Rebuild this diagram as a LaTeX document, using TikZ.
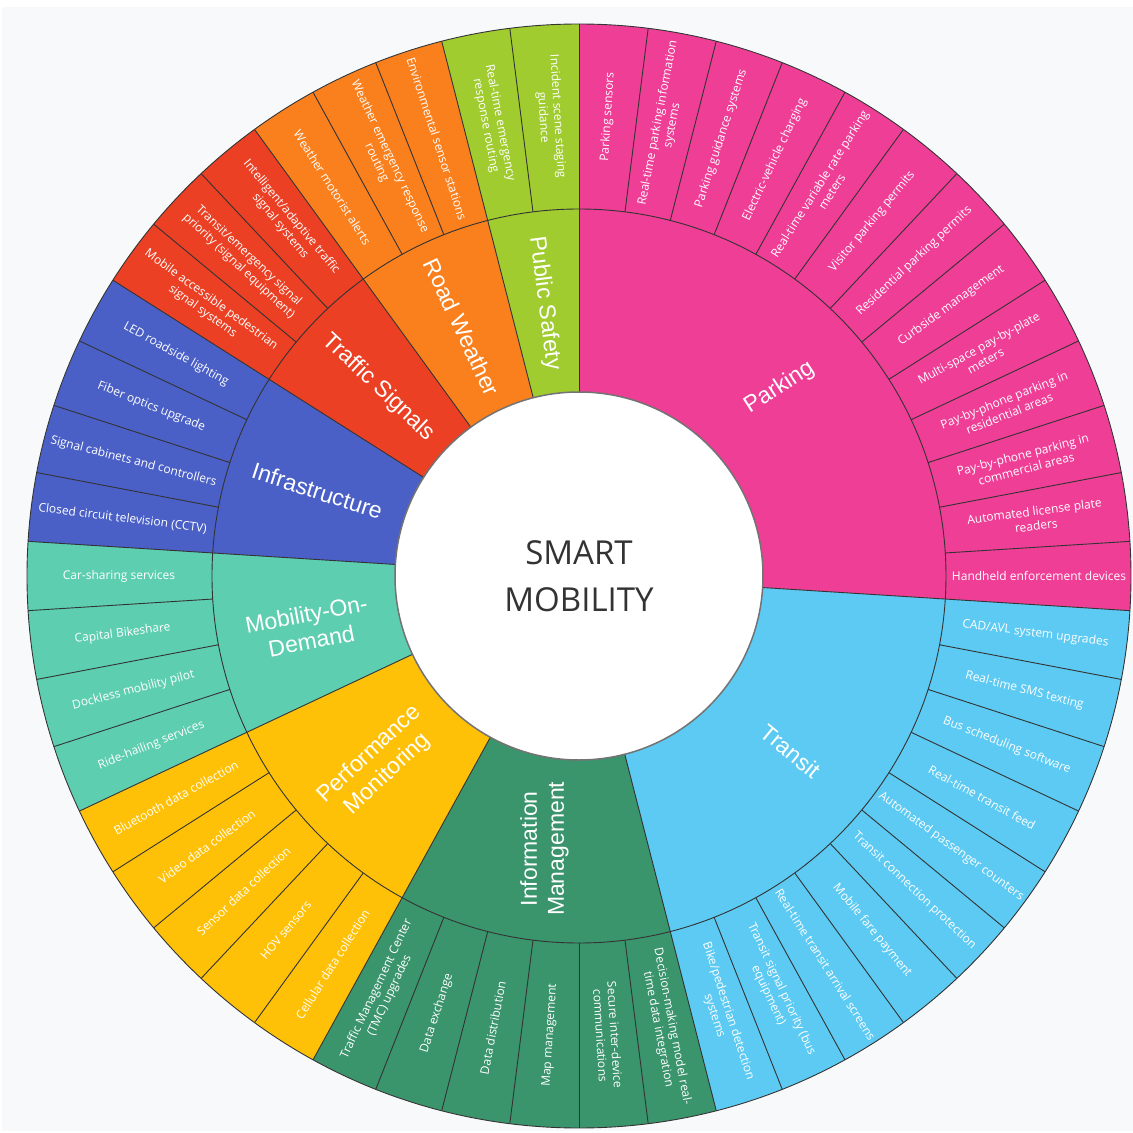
\documentclass[tikz,border=0pt]{standalone}
\usepackage{fontspec}
\setmainfont{Open Sans}
\newfontfamily\ringfont{Liberation Sans}
\definecolor{parkc}{RGB}{238,62,150}
\definecolor{tranc}{RGB}{92,202,242}
\definecolor{infoc}{RGB}{58,148,108}
\definecolor{perfc}{RGB}{255,193,7}
\definecolor{mobc}{RGB}{94,206,176}
\definecolor{infrc}{RGB}{74,96,198}
\definecolor{sigc}{RGB}{236,64,36}
\definecolor{weac}{RGB}{250,128,30}
\definecolor{safc}{RGB}{160,204,48}
\definecolor{bggray}{RGB}{248,249,251}

\begin{document}
\begin{tikzpicture}[x=1pt, y=1pt,
        sep/.style={draw=black!80, line width=0.9pt},
        outlbl/.style={text=white, align=center, inner sep=1pt, font=\fontsize{12}{14.5}\selectfont},
        inlbl/.style={text=white, align=center, font=\ringfont\fontsize{23}{27}\selectfont}]
        \useasboundingbox (-579,-557) rectangle (554,576);
        \fill[white] (-579,-557) rectangle (554,576);
        \fill[bggray] (-577,-555) rectangle (554,569);

        % groups, inner and outer ring together
        \fill[parkc] (90:184) arc [start angle=90, end angle=-3.6, radius=184] -- (-3.6:552) arc [start angle=-3.6, end angle=90, radius=552] -- cycle;
        \fill[tranc] (-3.6:184) arc [start angle=-3.6, end angle=-75.6, radius=184] -- (-75.6:552) arc [start angle=-75.6, end angle=-3.6, radius=552] -- cycle;
        \fill[infoc] (-75.6:184) arc [start angle=-75.6, end angle=-118.8, radius=184] -- (-118.8:552) arc [start angle=-118.8, end angle=-75.6, radius=552] -- cycle;
        \fill[perfc] (-118.8:184) arc [start angle=-118.8, end angle=-154.8, radius=184] -- (-154.8:552) arc [start angle=-154.8, end angle=-118.8, radius=552] -- cycle;
        \fill[mobc] (-154.8:184) arc [start angle=-154.8, end angle=-183.6, radius=184] -- (-183.6:552) arc [start angle=-183.6, end angle=-154.8, radius=552] -- cycle;
        \fill[infrc] (-183.6:184) arc [start angle=-183.6, end angle=-212.4, radius=184] -- (-212.4:552) arc [start angle=-212.4, end angle=-183.6, radius=552] -- cycle;
        \fill[sigc] (-212.4:184) arc [start angle=-212.4, end angle=-234, radius=184] -- (-234:552) arc [start angle=-234, end angle=-212.4, radius=552] -- cycle;
        \fill[weac] (-234:184) arc [start angle=-234, end angle=-255.6, radius=184] -- (-255.6:552) arc [start angle=-255.6, end angle=-234, radius=552] -- cycle;
        \fill[safc] (-255.6:184) arc [start angle=-255.6, end angle=-270, radius=184] -- (-270:552) arc [start angle=-270, end angle=-255.6, radius=552] -- cycle;

        % borders
        \foreach \k in {0,...,49}
                \draw[sep] ({90-7.2*\k}:367) -- ({90-7.2*\k}:552);
        \foreach \a in {90,-3.6,-75.6,-118.8,-154.8,-183.6,-212.4,-234,-255.6}
                \draw[sep] (\a:184) -- (\a:367);
        \draw[sep] (0,0) circle [radius=367] (0,0) circle [radius=552];

        \node[circle, minimum size=368pt, inner sep=0pt, fill=white, draw=black!55, line width=1.5pt,
              text=black!80, align=center, font=\fontsize{33}{47}\selectfont] (hub) at (0,0) {SMART\\MOBILITY};

        % inner ring
        \node[inlbl, rotate=33] (parking) at (43.2:275) {Parking};
        \node[inlbl, rotate=-39.6] (transit) at (-39.6:275) {Transit};
        \node[inlbl, rotate=90] (infomgmt) at (-97.2:275) {Information\\Management};
        \node[inlbl, rotate=43.2] (perfmon) at (-136.8:275) {Performance\\Monitoring};
        \node[inlbl, rotate=10.8] (mobility) at (-169.2:275) {Mobility-On-\\Demand};
        \node[inlbl, rotate=-18] (infra) at (-198:275) {Infrastructure};
        \node[inlbl, rotate=-43.2] (signals) at (-223.2:275) {Traffic Signals};
        \node[inlbl, rotate=-64.8] (weather) at (-244.8:275) {Road Weather};
        \node[inlbl, rotate=-82.8] (safety) at (-262.8:275) {Public Safety};

        % outer ring: parking
        \node[outlbl, rotate=86.4] (park1) at (86.4:460) {Parking sensors};
        \node[outlbl, rotate=79.2] (park2) at (79.2:460) {Real-time parking information\\systems};
        \node[outlbl, rotate=72] (park3) at (72:460) {Parking guidance systems};
        \node[outlbl, rotate=64.8] (park4) at (64.8:460) {Electric-vehicle charging};
        \node[outlbl, rotate=57.6] (park5) at (57.6:460) {Real-time variable rate parking\\meters};
        \node[outlbl, rotate=50.4] (park6) at (50.4:460) {Visitor parking permits};
        \node[outlbl, rotate=43.2] (park7) at (43.2:460) {Residential parking permits};
        \node[outlbl, rotate=36] (park8) at (36:460) {Curbside management};
        \node[outlbl, rotate=28.8] (park9) at (28.8:460) {Multi-space pay-by-plate\\meters};
        \node[outlbl, rotate=21.6] (park10) at (21.6:460) {Pay-by-phone parking in\\residential areas};
        \node[outlbl, rotate=14.4] (park11) at (14.4:460) {Pay-by-phone parking in\\commercial areas};
        \node[outlbl, rotate=7.2] (park12) at (7.2:460) {Automated license plate\\readers};
        \node[outlbl, rotate=0] (park13) at (0:460) {Handheld enforcement devices};

        % transit
        \node[outlbl, rotate=-7.2] (tran1) at (-7.2:460) {CAD/AVL system upgrades};
        \node[outlbl, rotate=-14.4] (tran2) at (-14.4:460) {Real-time SMS texting};
        \node[outlbl, rotate=-21.6] (tran3) at (-21.6:460) {Bus scheduling software};
        \node[outlbl, rotate=-28.8] (tran4) at (-28.8:460) {Real-time transit feed};
        \node[outlbl, rotate=-36] (tran5) at (-36:460) {Automated passenger counters};
        \node[outlbl, rotate=-43.2] (tran6) at (-43.2:460) {Transit connection protection};
        \node[outlbl, rotate=-50.4] (tran7) at (-50.4:460) {Mobile fare payment};
        \node[outlbl, rotate=-57.6] (tran8) at (-57.6:460) {Real-time transit arrival screens};
        \node[outlbl, rotate=-64.8] (tran9) at (-64.8:460) {Transit signal priority (bus\\equipment)};
        \node[outlbl, rotate=-72] (tran10) at (-72:460) {Bike/pedestrian detection\\systems};

        % information management
        \node[outlbl, rotate=-79.2] (info1) at (-79.2:460) {Decision-making model real-\\time data integration};
        \node[outlbl, rotate=-86.4] (info2) at (-86.4:460) {Secure inter-device\\communications};
        \node[outlbl, rotate=86.4] (info3) at (-93.6:460) {Map management};
        \node[outlbl, rotate=79.2] (info4) at (-100.8:460) {Data distribution};
        \node[outlbl, rotate=72] (info5) at (-108:460) {Data exchange};
        \node[outlbl, rotate=64.8] (info6) at (-115.2:460) {Traffic Management Center\\(TMC) upgrades};

        % performance monitoring
        \node[outlbl, rotate=57.6] (perf1) at (-122.4:460) {Cellular data collection};
        \node[outlbl, rotate=50.4] (perf2) at (-129.6:460) {HOV sensors};
        \node[outlbl, rotate=43.2] (perf3) at (-136.8:460) {Sensor data collection};
        \node[outlbl, rotate=36] (perf4) at (-144:460) {Video data collection};
        \node[outlbl, rotate=28.8] (perf5) at (-151.2:460) {Bluetooth data collection};

        % mobility-on-demand
        \node[outlbl, rotate=21.6] (mob1) at (-158.4:460) {Ride-hailing services};
        \node[outlbl, rotate=14.4] (mob2) at (-165.6:460) {Dockless mobility pilot};
        \node[outlbl, rotate=7.2] (mob3) at (-172.8:460) {Capital Bikeshare};
        \node[outlbl, rotate=0] (mob4) at (-180:460) {Car-sharing services};

        % infrastructure
        \node[outlbl, rotate=-7.2] (infr1) at (-187.2:460) {Closed circuit television (CCTV)};
        \node[outlbl, rotate=-14.4] (infr2) at (-194.4:460) {Signal cabinets and controllers};
        \node[outlbl, rotate=-21.6] (infr3) at (-201.6:460) {Fiber optics upgrade};
        \node[outlbl, rotate=-28.8] (infr4) at (-208.8:460) {LED roadside lighting};

        % traffic signals
        \node[outlbl, rotate=-36] (sig1) at (-216:460) {Mobile accessible pedestrian\\signal systems};
        \node[outlbl, rotate=-43.2] (sig2) at (-223.2:460) {Transit/emergency signal\\priority (signal equipment)};
        \node[outlbl, rotate=-50.4] (sig3) at (-230.4:460) {Intelligent/adaptive traffic\\signal systems};

        % road weather
        \node[outlbl, rotate=-57.6] (wea1) at (-237.6:460) {Weather motorist alerts};
        \node[outlbl, rotate=-64.8] (wea2) at (-244.8:460) {Weather emergency response\\routing};
        \node[outlbl, rotate=-72] (wea3) at (-252:460) {Environmental sensor stations};

        % public safety
        \node[outlbl, rotate=-79.2] (saf1) at (-259.2:460) {Real-time emergency\\response routing};
        \node[outlbl, rotate=-86.4] (saf2) at (-266.4:460) {Incident scene staging\\guidance};
\end{tikzpicture}
\end{document}
